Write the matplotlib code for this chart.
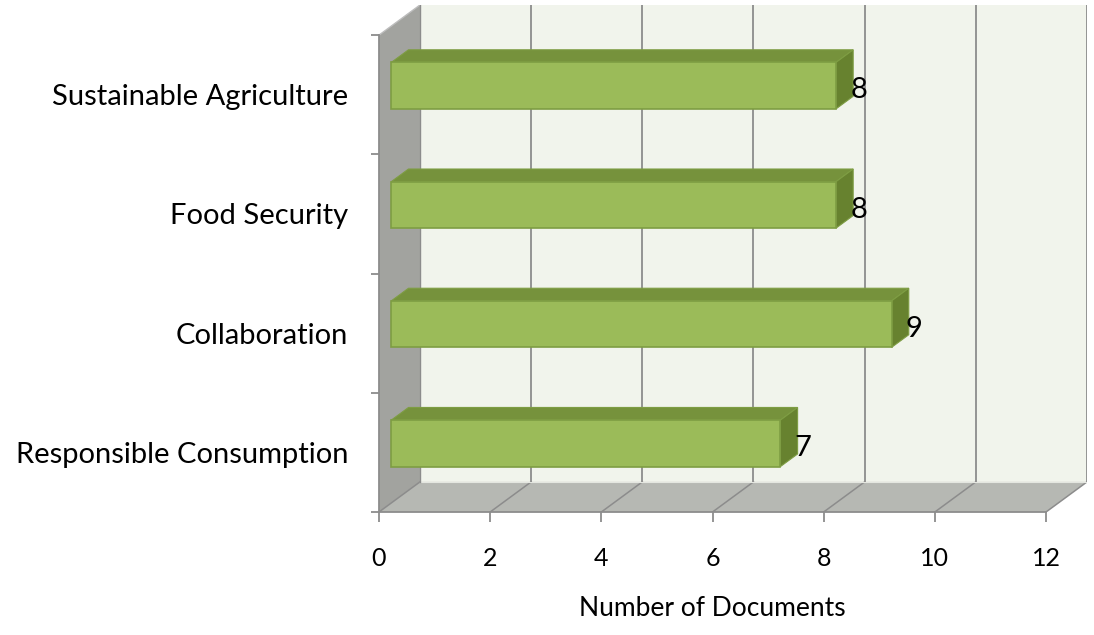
import matplotlib
matplotlib.use("Agg")
import matplotlib.pyplot as plt
from matplotlib.patches import Polygon

categories = ["Responsible Consumption", "Collaboration", "Food Security", "Sustainable Agriculture"]
values = [7, 9, 8, 8]
x_ticks = [0, 2, 4, 6, 8, 10, 12]
x_title = "Number of Documents"

plt.rcParams['font.family'] = ['Lato', 'DejaVu Sans']

# fake 3d: depth offset in data units
DX, DY = 0.737, 0.2526
XMAX = 12
BAR_H = 0.39
F_DEPTH, B_DEPTH = 0.3, 0.72

WALL = '#F1F4EC'
FLOOR = '#B6B8B3'
SIDE_WALL = '#A2A39F'
GRID = '#8C8C8C'
BAR_FRONT = '#9BBB59'
BAR_TOP = '#76923C'
BAR_SIDE = '#67822F'
BAR_EDGE = '#7E9D43'

fig = plt.figure(figsize=(10.94, 6.35), dpi=100)
ax = fig.add_axes([379/1094, 1-512/635, 708/1094, 507/635])
ax.set_xlim(0, XMAX + DX)
ax.set_ylim(-0.5, len(categories) - 0.5 + DY)

y0, y1 = -0.5, len(categories) - 0.5

def poly(pts, fc, ec='none', lw=0.8, z=1):
    ax.add_patch(Polygon(pts, closed=True, facecolor=fc, edgecolor=ec, linewidth=lw, zorder=z))

# walls
poly([(DX, y0 + DY), (XMAX + DX, y0 + DY), (XMAX + DX, y1 + DY), (DX, y1 + DY)], WALL, z=0)
poly([(0, y0), (XMAX, y0), (XMAX + DX, y0 + DY), (DX, y0 + DY)], FLOOR, z=0)
poly([(0, y0), (DX, y0 + DY), (DX, y1 + DY), (0, y1)], SIDE_WALL, z=0)

# gridlines on back wall and floor
for t in x_ticks:
    if t > 0:
        ax.plot([t + DX, t + DX], [y0 + DY, y1 + DY], color=GRID, lw=1.3, zorder=0.5)
    ax.plot([t, t + DX], [y0, y0 + DY], color=GRID, lw=1.1, zorder=0.5)
ax.plot([DX, XMAX + DX], [y0 + DY, y0 + DY], color='#E4E6E0', lw=0.8, zorder=0.5)
ax.plot([0, DX], [y1, y1 + DY], color='#BDBDBD', lw=1.0, zorder=0.5)
ax.plot([DX, DX], [y0 + DY, y1 + DY], color=GRID, lw=1.0, zorder=0.5)

# front axes lines
ax.plot([0, XMAX], [y0, y0], color=GRID, lw=1.3, zorder=3, clip_on=False)
ax.plot([0, 0], [y0, y1], color=GRID, lw=1.3, zorder=3, clip_on=False)

# bars
for i, v in enumerate(values):
    bot, top = i - BAR_H / 2, i + BAR_H / 2
    fx, fy = F_DEPTH * DX, F_DEPTH * DY
    bx, by = B_DEPTH * DX, B_DEPTH * DY
    poly([(fx, top + fy), (v + fx, top + fy), (v + bx, top + by), (bx, top + by)], BAR_TOP, BAR_EDGE, z=2)
    poly([(v + fx, bot + fy), (v + bx, bot + by), (v + bx, top + by), (v + fx, top + fy)], BAR_SIDE, BAR_EDGE, z=2)
    poly([(fx, bot + fy), (v + fx, bot + fy), (v + fx, top + fy), (fx, top + fy)], BAR_FRONT, BAR_EDGE, lw=1.2, z=2)
    ax.text(v + bx - 0.05, i + fy - 0.04, str(v), ha='left', va='center', fontsize=21, color='black',
            zorder=4)

for s in ax.spines.values():
    s.set_visible(False)

ax.set_xticks(x_ticks)
ax.set_xticklabels([str(t) for t in x_ticks], fontsize=18)
ax.tick_params(axis='x', direction='out', length=7, width=1.3, color=GRID, pad=18)

ax.set_yticks([k - 0.5 for k in range(len(categories) + 1)])
ax.set_yticklabels([])
ax.set_yticks(range(len(categories)), minor=True)
ax.set_yticklabels(categories, minor=True, fontsize=21)
ax.tick_params(axis='y', which='major', direction='out', length=6, width=1.3, color=GRID)
ax.tick_params(axis='y', which='minor', length=0, pad=22)

ax.set_xlabel(x_title, fontsize=19)
# centre the title under the front x axis (0..12), not the whole box
ax.xaxis.set_label_coords(XMAX / 2 / (XMAX + DX), -0.165)

fig.savefig("out.png", dpi=100, facecolor='white')
